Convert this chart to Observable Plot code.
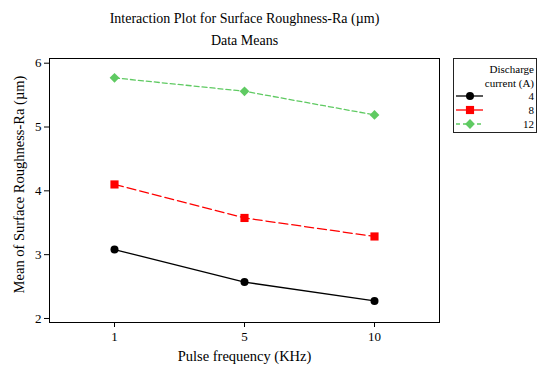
<!DOCTYPE html>
<html>
<head>
<meta charset="utf-8">
<script src="https://cdn.jsdelivr.net/npm/d3@7"></script>
<script src="https://cdn.jsdelivr.net/npm/@observablehq/plot@0.6"></script>
<style>
  html, body { margin: 0; padding: 0; background: #fff; }
  svg { display: block; }
  svg text { font-family: "Liberation Serif", "Times New Roman", serif; }
</style>
</head>
<body>
<div id="chart"></div>
<script>
// Data
const frequencies = ["1", "5", "10"];           // Pulse frequency (KHz)
const currents = ["4", "8", "12"];              // Discharge current (A)
const ra4 = [3.08, 2.57, 2.275];
const ra8 = [4.10, 3.575, 3.285];
const ra12 = [5.77, 5.56, 5.19];
const yTicks = [2, 3, 4, 5, 6];

const seriesValues = [ra4, ra8, ra12];
const colors = ["#000000", "#ff0000", "#5fca62"];
const symbols = ["circle", "square", "diamond2"];
const dashes = [null, "9,4", "5,3"];
const radii = [4, 4.6, 4.4];

const rows = [];
currents.forEach((c, i) => frequencies.forEach((f, j) => rows.push({current: c, freq: f, ra: seriesValues[i][j]})));

const font = "Liberation Serif, Times New Roman, serif";

const marks = [
  Plot.frame({stroke: "black", strokeWidth: 1}),
  Plot.axisX({tickSize: 5, tickPadding: 4, fontSize: 13, fontFamily: font, label: null}),
  Plot.axisY({ticks: yTicks, tickFormat: "d", tickSize: 5, tickPadding: 3, fontSize: 13, fontFamily: font, label: null}),
];
currents.forEach((c, i) => {
  const d = rows.filter(r => r.current === c);
  marks.push(Plot.line(d, {x: "freq", y: "ra", stroke: colors[i], strokeWidth: 1.3, strokeDasharray: dashes[i]}));
  marks.push(Plot.dot(d, {x: "freq", y: "ra", symbol: () => symbols[i], fill: colors[i], stroke: "none", r: radii[i]}));
});
marks.push(
  Plot.text(["Interaction Plot for Surface Roughness-Ra (µm)"], {frameAnchor: "top", dy: -40, text: d => d, fontSize: 14, fontFamily: font, lineAnchor: "middle"}),
  Plot.text(["Data Means"], {frameAnchor: "top", dy: -18, text: d => d, fontSize: 14, fontFamily: font, lineAnchor: "middle"}),
  Plot.text(["Pulse frequency (KHz)"], {frameAnchor: "bottom", dy: 34, text: d => d, fontSize: 14.5, fontFamily: font, lineAnchor: "middle"}),
  Plot.text(["Mean of Surface Roughness-Ra (µm)"], {frameAnchor: "left", dx: -30, dy: -6, rotate: -90, text: d => d, fontSize: 14.5, fontFamily: font, textAnchor: "middle", lineAnchor: "middle"})
);

const svg = Plot.plot({
  width: 539,
  height: 365,
  marginTop: 58,
  marginLeft: 49,
  marginRight: 100,
  marginBottom: 43,
  style: {fontFamily: font, fontSize: "12px", color: "black", background: "white", overflow: "visible"},
  x: {type: "point", domain: frequencies, padding: 0.5},
  y: {domain: [1.937, 6.0735]},
  symbol: {domain: symbols, range: symbols},
  marks
});

// Legend
const lg = d3.select(svg).append("g").attr("font-family", font).attr("font-size", 11);
lg.append("rect").attr("x", 453.5).attr("y", 58.5).attr("width", 83).attr("height", 74)
  .attr("fill", "none").attr("stroke", "#222");
lg.append("text").attr("x", 534).attr("y", 69).attr("dy", "0.35em").attr("text-anchor", "end").text("Discharge");
lg.append("text").attr("x", 534).attr("y", 83).attr("dy", "0.35em").attr("text-anchor", "end").text("current (A)");
currents.forEach((c, i) => {
  const y = 96 + i * 14;
  lg.append("line").attr("x1", 456).attr("x2", 483).attr("y1", y).attr("y2", y)
    .attr("stroke", colors[i]).attr("stroke-width", 1.3).attr("stroke-dasharray", i === 2 ? "4,3" : null);
  lg.append("path").attr("transform", `translate(470,${y})`)
    .attr("d", d3.symbol(i === 0 ? d3.symbolCircle : i === 1 ? d3.symbolSquare : d3.symbolDiamond2, Math.PI * radii[i] * radii[i])())
    .attr("fill", colors[i]);
  lg.append("text").attr("x", 534).attr("y", y).attr("dy", "0.35em").attr("text-anchor", "end").text(c);
});

document.getElementById("chart").appendChild(svg);
</script>
</body>
</html>
